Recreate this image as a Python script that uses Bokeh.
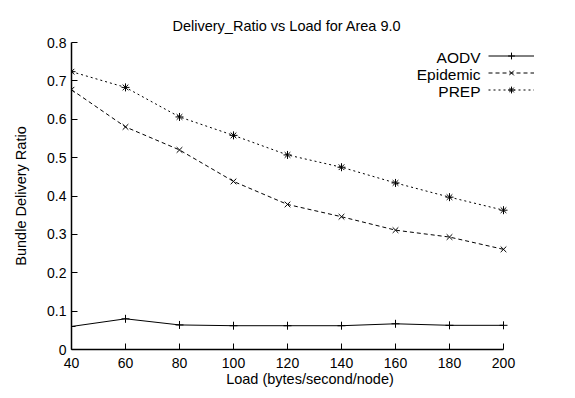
from bokeh.plotting import figure
from bokeh.models import FixedTicker, Legend, LegendItem, Range1d, Label
from bokeh.embed import file_html
from bokeh.resources import INLINE

load = [40, 60, 80, 100, 120, 140, 160, 180, 200]
aodv = [0.060, 0.080, 0.064, 0.062, 0.062, 0.062, 0.067, 0.063, 0.063]
epidemic = [0.677, 0.580, 0.520, 0.438, 0.378, 0.346, 0.311, 0.293, 0.261]
prep = [0.724, 0.683, 0.606, 0.558, 0.507, 0.475, 0.434, 0.397, 0.363]
x_ticks = [40, 60, 80, 100, 120, 140, 160, 180, 200]
y_ticks = [0, 0.1, 0.2, 0.3, 0.4, 0.5, 0.6, 0.7, 0.8]
names = ["AODV", "Epidemic", "PREP"]

FONT = "Liberation Sans"

# frame extended to the right so the key (which sits past x=200) is not clipped;
# 40..200 still spans 432 px, as in the reference
plot_w = 432
frame_w = 477
x_max = 40 + (200 - 40) * frame_w / plot_w

p = figure(width=575, height=398, output_backend="svg", toolbar_location=None,
           x_range=Range1d(40, x_max), y_range=Range1d(0, 0.8),
           min_border_left=71, min_border_right=575 - 71 - frame_w,
           min_border_top=42, min_border_bottom=49,
           title="Delivery_Ratio vs Load for Area 9.0")
p.title.align = "left"
p.title.offset = 101
p.title.text_font = FONT
p.title.text_font_size = "14.5px"
p.title.text_font_style = "normal"
p.title.text_color = "black"
p.title.standoff = 17
p.outline_line_color = None
p.grid.visible = False
p.background_fill_color = "white"
p.border_fill_color = "white"

for ax in (p.xaxis[0], p.yaxis[0]):
    ax.major_tick_in = 6
    ax.major_tick_out = 0
    ax.minor_tick_line_color = None
    ax.axis_line_color = "black"
    ax.axis_line_width = 1.5
    ax.major_tick_line_color = "black"
    ax.major_label_text_font = FONT
    ax.major_label_text_font_size = "14px"
    ax.major_label_text_color = "black"
    ax.axis_label_text_font = FONT
    ax.axis_label_text_font_size = "14.5px"
    ax.axis_label_text_font_style = "normal"
    ax.axis_label_text_color = "black"

p.xaxis.ticker = FixedTicker(ticks=x_ticks)
p.xaxis.bounds = (40, 200)
p.yaxis.ticker = FixedTicker(ticks=y_ticks)
p.yaxis.major_label_overrides = {0: "0"}
p.xaxis.axis_label = "Load (bytes/second/node)"
p.yaxis.axis_label = "Bundle Delivery Ratio"
p.xaxis.major_label_standoff = 8
p.yaxis.major_label_standoff = 5
p.xaxis.axis_label_standoff = 0
p.yaxis.axis_label_standoff = 15

l1 = p.line(load, aodv, line_color="black", line_width=1)
m1 = p.scatter(load, aodv, marker="cross", size=8, line_color="black")
l2 = p.line(load, epidemic, line_color="black", line_width=1, line_dash="4 3")
m2 = p.scatter(load, epidemic, marker="x", size=8, line_color="black")
l3 = p.line(load, prep, line_color="black", line_width=1, line_dash="2 3")
m3 = p.scatter(load, prep, marker="asterisk", size=8, line_color="black")

legend = Legend(items=[LegendItem(label="", renderers=r) for r in
                       [[l1, m1], [l2, m2], [l3, m3]]],
                location=(417, 251), orientation="vertical",
                background_fill_alpha=0, border_line_color=None,
                padding=0, margin=0, spacing=0,
                glyph_width=46, glyph_height=17, label_height=17,
                label_width=0, label_standoff=0,
                label_text_font=FONT, label_text_font_size="13px")
p.add_layout(legend)

for i, n in enumerate(names):
    p.add_layout(Label(x=409, y=292 - 17 * i, x_units="screen", y_units="screen",
                       text=n, text_align="right", text_baseline="middle",
                       text_font=FONT, text_font_size="15.5px", text_color="black"))

open("out.html", "w").write(file_html(p, INLINE))
